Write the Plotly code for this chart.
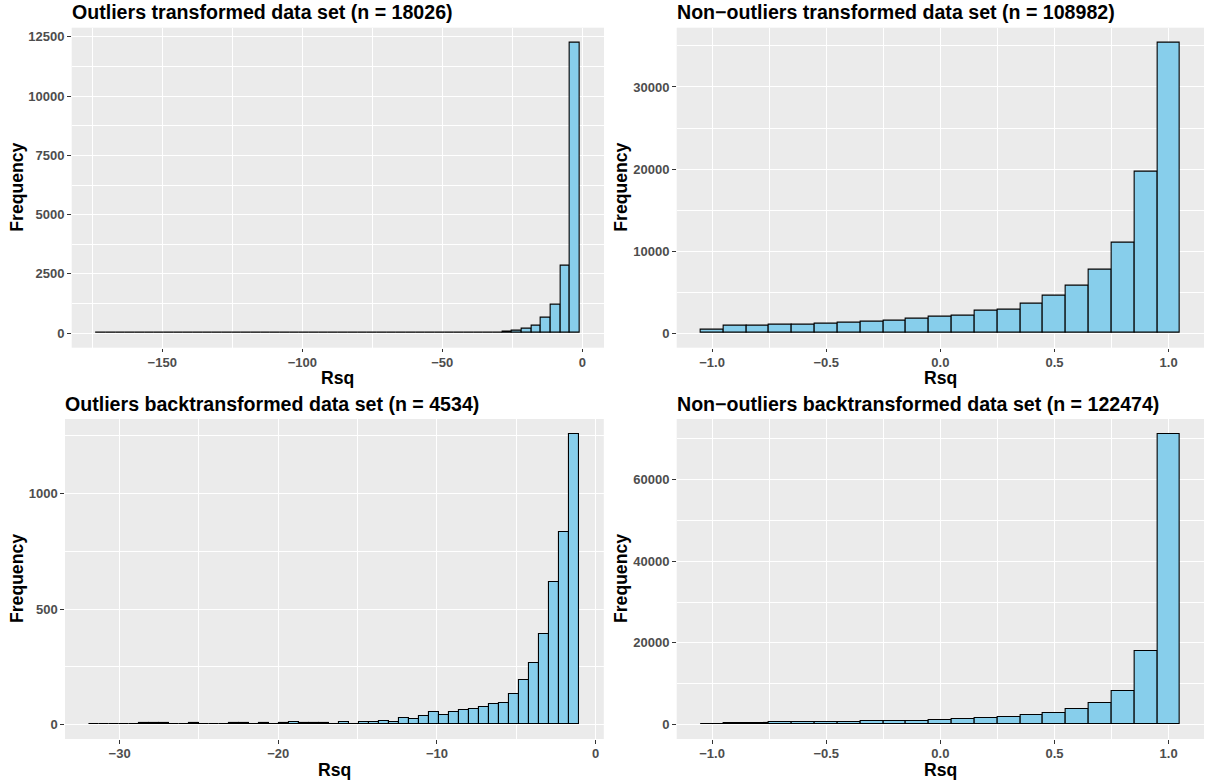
import numpy as np
import plotly.graph_objects as go

# ---------------- data ----------------
# Outliers transformed (50 equal bins)
otr_bin_start = -173.7
otr_bin_width = 3.456
otr_counts = [2, 1, 0, 1, 1, 0, 1, 1, 0, 1, 1, 1, 0, 1, 2, 1, 1, 2, 1, 2,
              3, 5, 3, 4, 4, 6, 4, 3, 5, 6, 7, 6, 8, 9, 10, 12, 14, 17, 22, 28,
              35, 40, 55, 97, 168, 307, 657, 1191, 2845, 12273]

# Non-outliers transformed (bins of 0.1 centred on these values)
rsq_bins = [-1.0, -0.9, -0.8, -0.7, -0.6, -0.5, -0.4, -0.3, -0.2, -0.1, 0.0,
            0.1, 0.2, 0.3, 0.4, 0.5, 0.6, 0.7, 0.8, 0.9, 1.0]
rsq_bin_width = 0.1
ntr_counts = [410, 861, 943, 1025, 1066, 1148, 1271, 1394, 1558, 1722, 1968,
              2173, 2706, 2911, 3567, 4592, 5740, 7708, 11070, 19717, 35450]

# Outliers backtransformed (49 equal bins)
obt_bin_start = -31.9
obt_bin_width = 0.63
obt_counts = [1, 1, 2, 2, 2, 5, 5, 6, 1, 1, 5, 3, 3, 3, 7, 6, 4, 7, 3, 7,
              9, 6, 6, 6, 3, 10, 4, 9, 10, 14, 10, 27, 25, 35, 52, 43, 52, 61, 68, 76,
              88, 92, 131, 192, 267, 392, 616, 833, 1260]

# Non-outliers backtransformed
nbt_counts = [163, 326, 367, 489, 570, 640, 680, 733, 760, 896, 978,
              1222, 1467, 1793, 2282, 2690, 3667, 5297, 8231, 17930, 71280]

titles = ["Outliers transformed data set (n = 18026)",
          "Non\u2212outliers transformed data set (n = 108982)",
          "Outliers backtransformed data set (n = 4534)",
          "Non\u2212outliers backtransformed data set (n = 122474)"]

x_label = "Rsq"
y_label = "Frequency"

# ---------------- figure ----------------
W, H = 1208, 780
FONT = "Liberation Sans, Arial, Helvetica, sans-serif"
FILL = "#87CEEB"

def centers(start, width, n):
    return start + width * (np.arange(n) + 0.5)

panels = [
    dict(x=centers(otr_bin_start, otr_bin_width, len(otr_counts)), y=otr_counts, w=otr_bin_width,
         xdom=(71.7, 604.0), ydom=(27.7, 347.7), xdt=50, xminor=25, ydt=2500, yminor=1250, xfmt=None),
    dict(x=np.array(rsq_bins), y=ntr_counts, w=rsq_bin_width,
         xdom=(676.7, 1204.0), ydom=(27.7, 347.7), xdt=0.5, xminor=0.25, ydt=10000, yminor=5000, xfmt=".1f"),
    dict(x=centers(obt_bin_start, obt_bin_width, len(obt_counts)), y=obt_counts, w=obt_bin_width,
         xdom=(65.0, 603.8), ydom=(419.0, 739.0), xdt=10, xminor=5, ydt=500, yminor=250, xfmt=None),
    dict(x=np.array(rsq_bins), y=nbt_counts, w=rsq_bin_width,
         xdom=(676.7, 1204.0), ydom=(419.0, 739.0), xdt=0.5, xminor=0.25, ydt=20000, yminor=10000, xfmt=".1f"),
]

fig = go.Figure()
annotations = []
layout = {}
for i, p in enumerate(panels, start=1):
    xa = "x" if i == 1 else f"x{i}"
    ya = "y" if i == 1 else f"y{i}"
    fig.add_trace(go.Bar(x=p["x"], y=p["y"], width=p["w"], xaxis=xa, yaxis=ya,
                         marker=dict(color=FILL, line=dict(color="black", width=1.1)),
                         showlegend=False))
    lo = p["x"][0] - p["w"] / 2
    hi = p["x"][-1] + p["w"] / 2
    span = hi - lo
    ymax = max(p["y"])
    tickfont = dict(family=FONT, size=13, color="#4D4D4D", weight="bold")
    common = dict(ticks="outside", ticklen=3.7, tickwidth=1, tickcolor="#333333",
                  showgrid=True, gridcolor="white", gridwidth=1.1, zeroline=False,
                  showline=False, tickfont=tickfont, tick0=0)
    xaxis = dict(common, domain=[p["xdom"][0] / W, p["xdom"][1] / W],
                 range=[lo - 0.05 * span, hi + 0.05 * span], dtick=p["xdt"],
                 anchor=ya, ticklabelstandoff=-1,
                 minor=dict(dtick=p["xminor"], tick0=0, showgrid=True, gridcolor="white",
                            gridwidth=0.55, ticks=""))
    if p["xfmt"]:
        xaxis["tickformat"] = p["xfmt"]
    yaxis = dict(common, domain=[1 - p["ydom"][1] / H, 1 - p["ydom"][0] / H],
                 range=[-0.05 * ymax, 1.05 * ymax], dtick=p["ydt"], tickformat="d",
                 anchor=xa,
                 minor=dict(dtick=p["yminor"], tick0=0, showgrid=True, gridcolor="white",
                            gridwidth=0.55, ticks=""))
    layout["xaxis" if i == 1 else f"xaxis{i}"] = xaxis
    layout["yaxis" if i == 1 else f"yaxis{i}"] = yaxis

    x0, x1 = p["xdom"]
    y0, y1 = p["ydom"]
    # panel title
    annotations.append(dict(text=f"<b>{titles[i-1]}</b>", xref="paper", yref="paper",
                            x=x0 / W, y=1 - (y0 - 15.5) / H, xanchor="left", yanchor="middle",
                            showarrow=False, borderpad=0, borderwidth=0,
                            font=dict(family=FONT, size=19.6, color="black")))
    # x axis title
    annotations.append(dict(text=f"<b>{x_label}</b>", xref="paper", yref="paper",
                            x=(x0 + x1) / 2 / W, y=1 - (y1 + 30.5) / H, xanchor="center",
                            yanchor="middle", showarrow=False, borderpad=0, borderwidth=0,
                            font=dict(family=FONT, size=17.6, color="black")))
    # y axis title
    yx = 17.0 if x0 < 300 else 621.0
    annotations.append(dict(text=f"<b>{y_label}</b>", xref="paper", yref="paper",
                            x=yx / W, y=1 - (y0 + y1) / 2 / H, xanchor="center",
                            yanchor="middle", textangle=-90, showarrow=False,
                            borderpad=0, borderwidth=0,
                            font=dict(family=FONT, size=17.6, color="black")))

fig.update_layout(width=W, height=H, margin=dict(l=0, r=0, t=0, b=0),
                  paper_bgcolor="white", plot_bgcolor="#EBEBEB",
                  font=dict(family=FONT), annotations=annotations, bargap=0, **layout)

fig.write_html("out.html")
